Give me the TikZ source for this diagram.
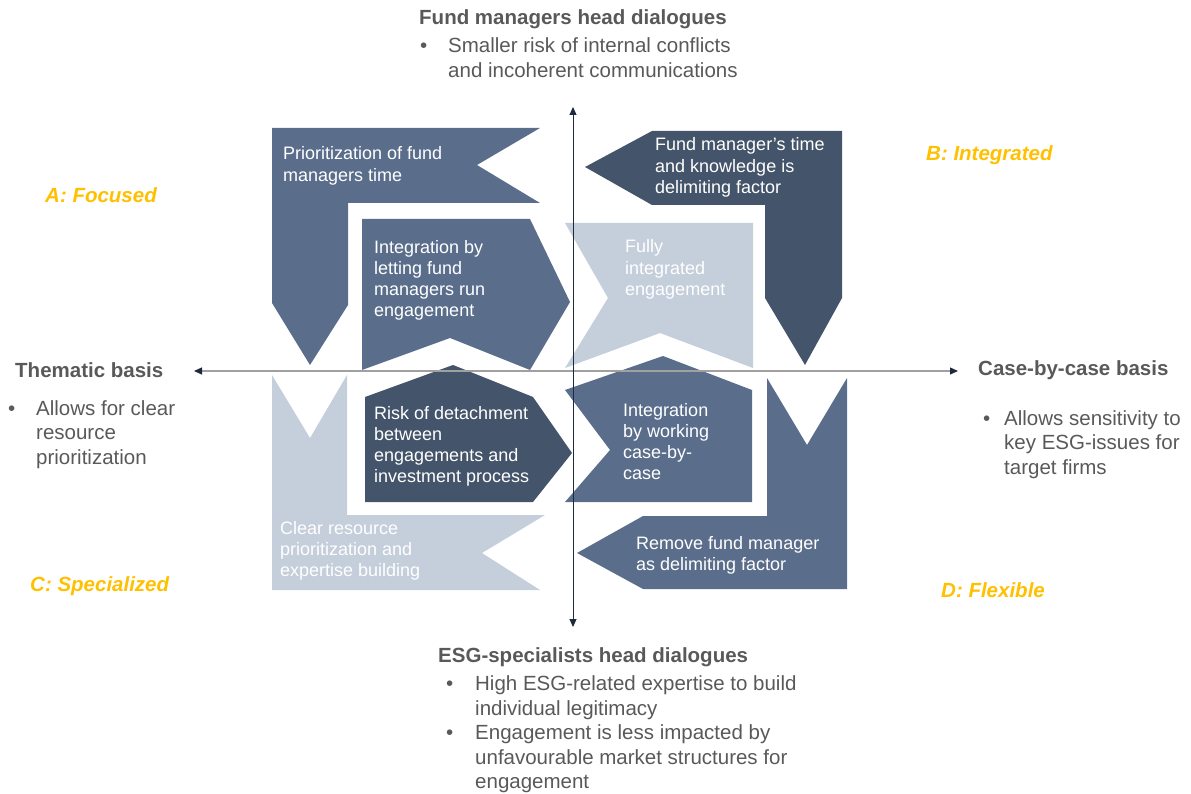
\documentclass[tikz,border=0pt]{standalone}
\usepackage{fontspec}
\setmainfont{Liberation Sans}
\usetikzlibrary{arrows.meta}
\definecolor{dk}{HTML}{44546A}
\definecolor{md}{HTML}{5A6E8C}
\definecolor{lt}{HTML}{C5CEDB}
\definecolor{txt}{HTML}{595959}
\definecolor{gold}{HTML}{FFC000}
\definecolor{axisdk}{HTML}{1F2A3A}
\definecolor{axisgr}{HTML}{A0A0A0}
\tikzset{
  boxtxt/.style={font=\fontsize{18}{21.3}\selectfont, align=left, inner sep=0pt, anchor=base west, text=white},
  head/.style={font=\bfseries\fontsize{20.5}{24.5}\selectfont, inner sep=0pt, anchor=base west, text=txt},
  bul/.style={font=\fontsize{20.5}{24.5}\selectfont, inner sep=0pt, anchor=base west, text=txt, align=left},
  quad/.style={font=\bfseries\itshape\fontsize{20.5}{24.5}\selectfont, inner sep=0pt, anchor=base west, text=gold},
  tip/.style={-{Triangle[length=8pt,width=7pt,color=axisdk]}}
}
\begin{document}
\begin{tikzpicture}[x=1pt,y=-1pt]
\useasboundingbox (0,0) rectangle (1191,794);
% shapes
\fill[md] (272,128) -- (540,128) -- (477,165) -- (540,203) -- (348,203) -- (348,305) -- (310,365) -- (272,303) -- cycle;
\fill[md] (362,219) -- (530,219) -- (570,302) -- (530,370) -- (450,338) -- (362,370) -- cycle;
\fill[dk] (652,131) -- (842,131) -- (842,298) -- (805,365) -- (765,298) -- (765,205) -- (652,205) -- (585,167) -- cycle;
\fill[lt] (565,223) -- (753,223) -- (753,368) -- (660,333) -- (565,368) -- (608,298) -- cycle;
\fill[lt] (272,375) -- (310,438) -- (347,375) -- (347,515) -- (545,515) -- (482,553) -- (540,590) -- (272,590) -- cycle;
\fill[dk] (365,397) -- (453,365) -- (533,397) -- (572,453) -- (533,502) -- (365,502) -- cycle;
\fill[md] (565,390) -- (663,356) -- (752,390) -- (752,502) -- (565,502) -- (610,450) -- cycle;
\fill[md] (767,378) -- (807,445) -- (847,378) -- (847,589) -- (643,589) -- (577,553) -- (643,516) -- (767,516) -- cycle;
% box texts (anchor = baseline of last line)
\node[boxtxt] (ta1) at (283,181.3) {Prioritization of fund\\managers time};
\node[boxtxt] (ta2) at (374,316.9) {Integration by\\letting fund\\managers run\\engagement};
\node[boxtxt] (tb1) at (655,193.6) {Fund manager’s time\\and knowledge is\\delimiting factor};
\node[boxtxt] (tb2) at (625,295.6) {Fully\\integrated\\engagement};
\node[boxtxt] (tc1) at (280,576.6) {Clear resource\\prioritization and\\expertise building};
\node[boxtxt] (tc2) at (374,482.9) {Risk of detachment\\between\\engagements and\\investment process};
\node[boxtxt] (td2) at (623,479.9) {Integration\\by working\\case-by-\\case};
\node[boxtxt] (td1) at (636,570.3) {Remove fund manager\\as delimiting factor};
% quadrant labels
\node[quad] (qa) at (45,203) {A: Focused};
\node[quad] (qb) at (926,161) {B: Integrated};
\node[quad] (qc) at (30,591) {C: Specialized};
\node[quad] (qd) at (941,597) {D: Flexible};
% headers
\node[head] (htop) at (419,25) {Fund managers head dialogues};
\node[bul] (btop) at (420,77.5) {\makebox[28pt][l]{\textbullet}Smaller risk of internal conflicts\\\hspace*{28pt}and incoherent communications};
\node[head] (hbot) at (438,662) {ESG-specialists head dialogues};
\node[bul] (bbot) at (446,788.5) {\makebox[29pt][l]{\textbullet}High ESG-related expertise to build\\\hspace*{29pt}individual legitimacy\\\makebox[29pt][l]{\textbullet}Engagement is less impacted by\\\hspace*{29pt}unfavourable market structures for\\\hspace*{29pt}engagement};
\node[head] (hleft) at (15,377) {Thematic basis};
\node[bul] (bleft) at (8,464) {\makebox[28pt][l]{\textbullet}Allows for clear\\\hspace*{28pt}resource\\\hspace*{28pt}prioritization};
\node[head] (hright) at (978,375) {Case-by-case basis};
\node[bul] (bright) at (983,474) {\makebox[21pt][l]{\textbullet}Allows sensitivity to\\\hspace*{21pt}key ESG-issues for\\\hspace*{21pt}target firms};
% axes
\coordinate (xl) at (194,371);
\coordinate (xr) at (958,371);
\coordinate (yt) at (573,107);
\coordinate (yb) at (573,627);
\coordinate (o) at (573,371);
\draw[axisgr, line width=1.1pt, tip] (o) -- (xl);
\draw[axisgr, line width=1.1pt, tip] (o) -- (xr);
\draw[axisdk, line width=1pt, tip] (o) -- (yt);
\draw[axisdk, line width=1pt, tip] (o) -- (yb);
\end{tikzpicture}
\end{document}
